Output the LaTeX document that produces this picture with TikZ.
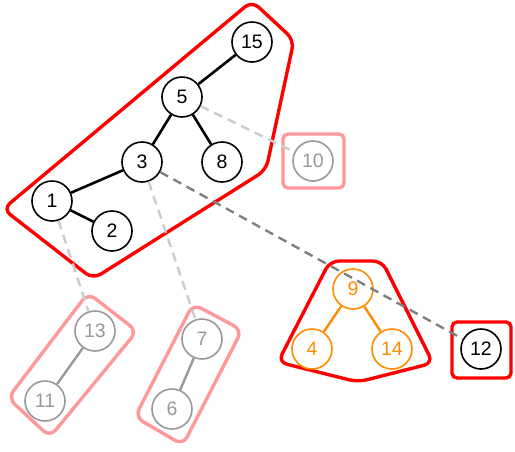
\documentclass[tikz,border=0pt]{standalone}
\usepackage{fontspec}
\setmainfont{Liberation Sans}
\usepackage{xcolor}
\definecolor{palered}{HTML}{FF9999}
\definecolor{nodegray}{HTML}{999999}
\definecolor{linkgray}{HTML}{CCCCCC}
\definecolor{darklink}{HTML}{808080}
\definecolor{treeorange}{HTML}{FF8C00}

\begin{document}
\begin{tikzpicture}[x=1pt,y=-1pt,
					-,
					node distance=80pt,
					thick,
					main node/.style={circle,draw,fill=white,minimum size=40pt,inner sep=0pt,line width=1.6pt,font=\fontsize{19.5}{19.5}\selectfont},
					gray node/.style={main node,draw=nodegray,text=nodegray},
					orange node/.style={main node,draw=treeorange,text=treeorange},
					hull/.style={draw=red,line width=3.4pt,rounded corners=9pt,line join=round},
					pale hull/.style={hull,draw=palered},
					link/.style={dash pattern=on 9pt off 6pt,line width=2.4pt,draw=linkgray}]

  \useasboundingbox (0,0) rectangle (515,451);

  % hulls
  \draw[hull] (252,1) -- (294,40) -- (266,170) -- (93,279) -- (3,209) -- cycle;
  \draw[hull] (330,261) -- (382,261) -- (433,363) -- (358,382) -- (278,362) -- cycle;
  \draw[hull,rounded corners=5pt] (452,322) rectangle (511,378);
  \draw[pale hull,rounded corners=5pt] (283,134) rectangle (344,188);
  \draw[pale hull] (88,293) -- (137,331) -- (50,437) -- (8,398) -- cycle;
  \draw[pale hull] (193,304) -- (242,330) -- (183,445) -- (135,417) -- cycle;

  % nodes
  \node[main node] (15) at (252,42) {15};
  \node[main node] (5) at (182,97) {5};
  \node[main node] (3) at (142,162) {3};
  \node[main node] (8) [right of=3] {8};
  \node[main node] (1) at (52,201) {1};
  \node[main node] (2) at (112,231) {2};
  \node[gray node] (10) at (313,161) {10};
  \node[orange node] (9) at (353,289) {9};
  \node[orange node] (4) at (312,349) {4};
  \node[orange node] (14) [right of=4] {14};
  \node[main node] (12) at (481,349) {12};
  \node[gray node] (13) at (95,331) {13};
  \node[gray node] (11) at (45,401) {11};
  \node[gray node] (7) at (202,339) {7};
  \node[gray node] (6) at (172,409) {6};

  % links between the groups
  \path[link]
    (5) edge (10)
    (1) edge (13)
    (3) edge (7)
    (3) edge[draw=darklink] (12);

  \path[line width=2.6pt]
    (15) edge (5)
    (5) edge (3)
    (5) edge (8)
    (3) edge (1)
    (1) edge (2);
  \path[line width=2.4pt,draw=treeorange]
    (9) edge (4)
    (9) edge (14);
  \path[line width=2.4pt,draw=nodegray]
    (13) edge (11)
    (7) edge (6);
\end{tikzpicture}
\end{document}
